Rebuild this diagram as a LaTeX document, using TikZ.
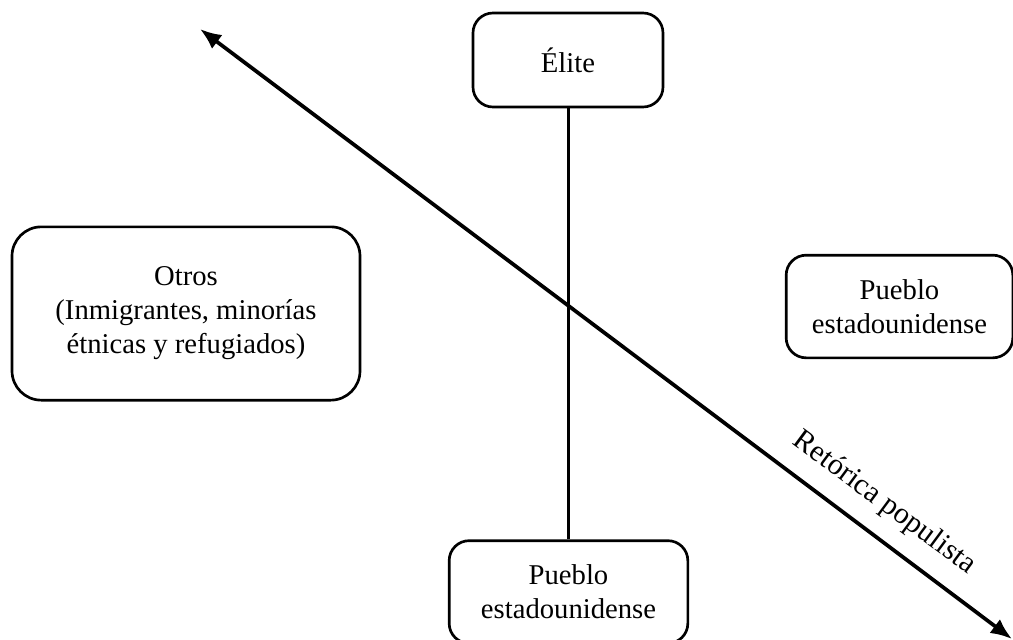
\documentclass[tikz,border=0pt]{standalone}
\usepackage{fontspec}
\setmainfont{Liberation Serif}
\usetikzlibrary{arrows.meta}
\begin{document}
\begin{tikzpicture}[x=0.75pt,y=-0.75pt,
  box/.style={draw, line width=2pt, rounded corners=15pt, align=center,
    font=\fontsize{21.5}{25.5}\selectfont, inner sep=0pt},
  conn/.style={line width=2.8pt},
  dbl/.style={line width=2.8pt, {Latex[length=16pt,width=13pt]}-{Latex[length=16pt,width=13pt]}}]
\useasboundingbox (0,0) rectangle (1013,639);
\clip (0,0) rectangle (1013,639);
\node[box, minimum width=142.5pt, minimum height=70.5pt] (elite) at (568,60) {Élite};
\node[box, minimum width=261pt, minimum height=130pt, rounded corners=22pt] (otros) at (186,313.5) {Otros\\(Inmigrantes, minorías\\étnicas y refugiados)};
\node[box, minimum width=170pt, minimum height=77pt] (pr) at (899.5,306.5) {Pueblo\\estadounidense};
\node[box, minimum width=179pt, minimum height=77pt] (pb) at (568.5,592) {Pueblo\\estadounidense};
\draw[conn] (elite.south -| pb.north) -- (pb.north);
\coordinate (a1) at (200,29);
\coordinate (a2) at (1012,639);
\draw[dbl] (a1) -- (a2);
\node[font=\fontsize{22.5}{26}\selectfont, rotate=-36.5] (lab) at (884,503) {Retórica populista};
\end{tikzpicture}
\end{document}
